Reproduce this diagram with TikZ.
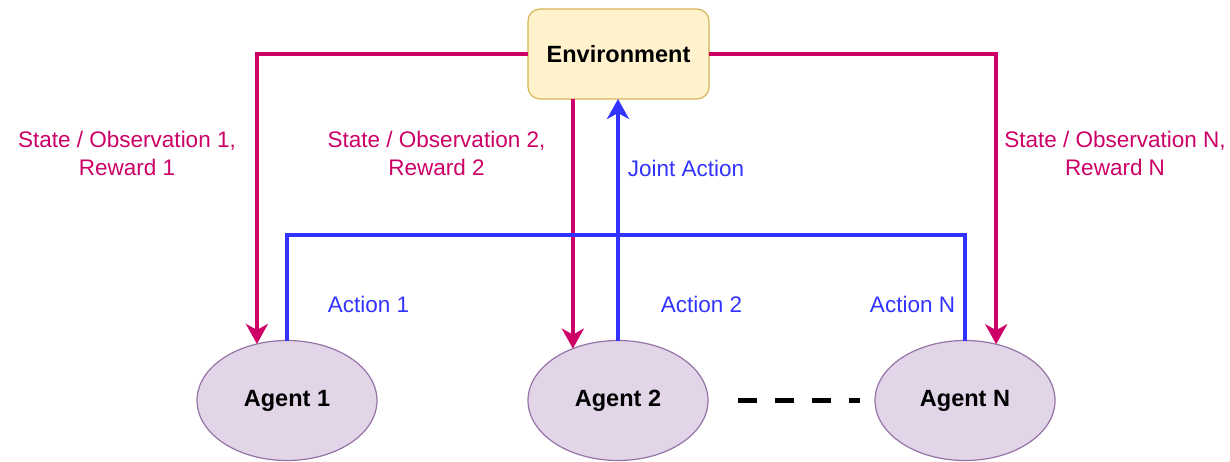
\documentclass[tikz,border=0pt]{standalone}
\usepackage{fontspec}
\setmainfont{Liberation Sans}
\usetikzlibrary{arrows.meta,calc}
\definecolor{envfill}{HTML}{FFF2CC}
\definecolor{envdraw}{HTML}{D6B656}
\definecolor{agfill}{HTML}{E1D5E7}
\definecolor{agdraw}{HTML}{9673A6}
\definecolor{pinkc}{HTML}{CC0066}
\definecolor{bluec}{HTML}{3333FF}
\tikzset{
  envbox/.style={draw=envdraw, fill=envfill, line width=1.2pt, rounded corners=12pt,
    minimum width=181pt, minimum height=90pt, inner sep=0pt, outer sep=0pt,
    font=\fontsize{23.5}{28}\selectfont\bfseries},
  agent/.style={ellipse, draw=agdraw, fill=agfill, line width=1.2pt,
    minimum width=180pt, minimum height=120pt, inner sep=0pt, outer sep=0pt,
    font=\fontsize{23.5}{28}\selectfont\bfseries},
  pinkline/.style={draw=pinkc, line width=3.8pt, -{Stealth[length=20pt,width=22pt,inset=6pt]}},
  blueline/.style={draw=bluec, line width=3.8pt},
  bluearrow/.style={blueline, -{Stealth[length=20pt,width=22pt,inset=6pt]}},
  pinklabel/.style={text=pinkc, align=center, inner sep=0pt, font=\fontsize{22.5}{28}\selectfont},
  bluelabel/.style={text=bluec, inner sep=0pt, font=\fontsize{22.5}{28}\selectfont},
  dashline/.style={draw=black, line width=5pt, dash pattern=on 19pt off 18pt},
}
\usetikzlibrary{shapes.geometric}
\begin{document}
\begin{tikzpicture}[x=1pt,y=-1pt]
\useasboundingbox (0,0) rectangle (1230,461);
\node[envbox] (env) at (618.5,54) {Environment};
\node[agent] (a1) at (287,400.5) {Agent 1};
\node[agent] (a2) at (618,400.5) {Agent 2};
\node[agent] (aN) at (965,400.5) {Agent N};
\coordinate (bus) at (618,235);
% pink state/reward arrows
\draw[pinkline] (env.west) -| (a1.118);
\draw[pinkline] (env.south -| a2.131) -- (a2.131);
\draw[pinkline] (env.east) -| (aN.61);
% blue action lines
\draw[blueline] (a1.north) |- (bus) -| (aN.north);
\draw[bluearrow] (a2.north) -- (env.south -| a2.north);
% dashes between agents
\draw[dashline, shorten <=30pt, shorten >=15pt] (a2.east) -- (aN.west);
% labels
\node[pinklabel] (l1) at (127,153) {State / Observation 1,\\Reward 1};
\node[pinklabel] (l2) at (436.5,153) {State / Observation 2,\\Reward 2};
\node[pinklabel] (lN) at (1115,153) {State / Observation N,\\Reward N};
\node[bluelabel] (lj) at (686,168) {Joint Action};
\node[bluelabel] (la1) at (368.5,304) {Action 1};
\node[bluelabel] (la2) at (701.5,304) {Action 2};
\node[bluelabel] (laN) at (912.5,304) {Action N};
\end{tikzpicture}
\end{document}
